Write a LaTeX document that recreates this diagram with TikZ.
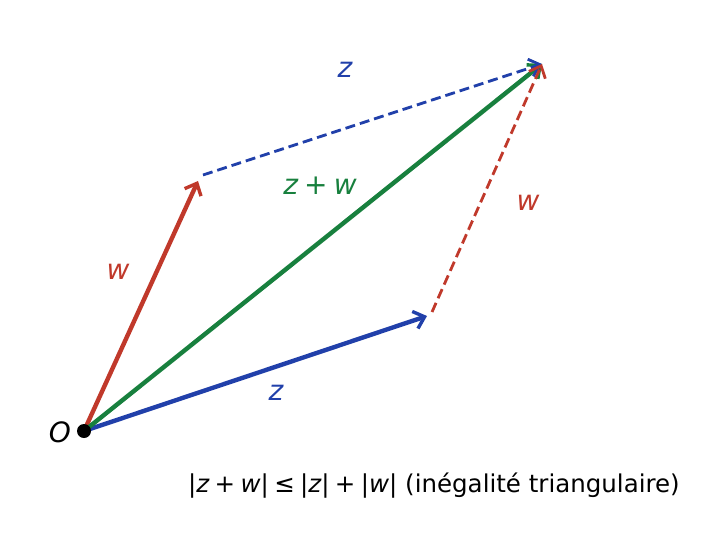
\documentclass[tikz,border=0pt]{standalone}
\usepackage{fontspec}
\setmainfont{DejaVu Sans}
\newfontfamily\obl{DejaVu Sans}[UprightFont=* Oblique]
\usetikzlibrary{arrows.meta}
\definecolor{cred}{RGB}{192,57,43}
\definecolor{cgreen}{RGB}{24,128,62}
\definecolor{cblue}{RGB}{33,64,170}
\newcommand{\mv}[1]{{\obl #1}}
\newcommand{\bs}{\hspace{0.22em}}
\tikzset{
  vec/.style={line width=4.4pt, -{Straight Barb[length=10pt,width=18pt,line width=3.4pt]}},
  dvec/.style={line width=2.8pt, dash pattern=on 10pt off 5pt, -{Straight Barb[length=10pt,width=18pt,line width=2.8pt]}},
  lbl/.style={font=\fontsize{28}{32}\selectfont, inner sep=0pt},
}
\begin{document}
\begin{tikzpicture}[x=1pt,y=-1pt]
\useasboundingbox (0,0) rectangle (701,538);
\coordinate (O) at (84,431);
\coordinate (Z) at (427,316);
\coordinate (W) at (198,181);
\coordinate (S) at (542,64);
\coordinate (Wd) at (203,175);
\coordinate (Zd) at (432,312);
\draw[vec, cred] (O) -- (W);
\draw[vec, cblue] (O) -- (Z);
\draw[vec, cgreen] (O) -- (S);
\draw[dvec, cblue] (Wd) -- (S);
\draw[dvec, cred] (Zd) -- (S);
\fill (O) circle (7);
\node[lbl, text=cblue] (lz1) at (276,393) {\mv{z}};
\node[lbl, text=cred] (lw1) at (118,272) {\mv{w}};
\node[lbl, text=cgreen] (lzw) at (320,186) {\mv{z}\bs+\bs\mv{w}};
\node[lbl, text=cblue] (lz2) at (345,70) {\mv{z}};
\node[lbl, text=cred] (lw2) at (528,203) {\mv{w}};
\node[lbl, text=black] (lO) at (60,432) {\mv{O}};
\node[font=\fontsize{24.5}{30}\selectfont, inner sep=0pt, anchor=west] (eq) at (188,486) {|\mv{z}\bs+\bs\mv{w}|\bs≤\bs|\mv{z}|\bs+\bs|\mv{w}| (inégalité triangulaire)};
\end{tikzpicture}
\end{document}
